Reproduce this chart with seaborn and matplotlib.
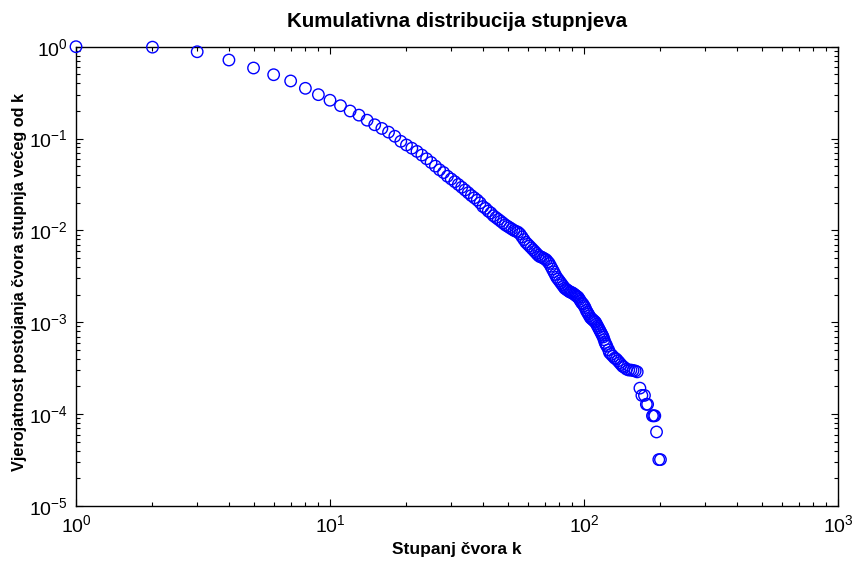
import matplotlib
matplotlib.use("Agg")
import matplotlib.pyplot as plt
import matplotlib.ticker as mticker
import numpy as np
import pandas as pd
import seaborn as sns

# Node degree k and cumulative probability P(K >= k)
degree = [
    1, 2, 3, 4, 5, 6, 7, 8, 9, 10, 11, 12, 13, 14, 15, 16, 17, 18, 19, 20,
    21, 22, 23, 24, 25, 26, 27, 28, 29, 30, 31, 32, 33, 34, 35, 36, 37, 38, 39, 40,
    41, 42, 43, 44, 45, 46, 47, 48, 49, 50, 51, 52, 53, 54, 55, 56, 57, 58, 59, 60,
    61, 62, 63, 64, 65, 66, 67, 68, 69, 70, 71, 72, 73, 74, 75, 76, 77, 78, 79, 80,
    81, 82, 83, 84, 85, 86, 87, 88, 89, 90, 91, 92, 93, 94, 95, 96, 97, 98, 99, 100,
    101, 102, 103, 104, 105, 106, 107, 108, 109, 110, 111, 112, 113, 114, 115, 116,
    117, 118, 119, 120, 121, 122, 123, 125, 126, 128, 130, 132, 134, 136, 138, 140,
    142, 144, 147, 150, 153, 156, 159, 162, 166, 169, 173, 176, 178, 186, 188, 190,
    193, 197, 200,
]
log_prob = [
    0.000, -0.005, -0.055, -0.145, -0.232, -0.305, -0.373, -0.453, -0.522, -0.583,
    -0.642, -0.700, -0.745, -0.800, -0.850, -0.890, -0.930, -0.975, -1.030, -1.070,
    -1.105, -1.140, -1.180, -1.220, -1.260, -1.300, -1.340, -1.370, -1.410, -1.440,
    -1.470, -1.500, -1.530, -1.560, -1.590, -1.620, -1.645, -1.670, -1.700, -1.740,
    -1.760, -1.790, -1.810, -1.840, -1.860, -1.880, -1.900, -1.920, -1.940, -1.955,
    -1.970, -1.985, -2.000, -2.010, -2.020, -2.040, -2.070, -2.100, -2.130, -2.150,
    -2.170, -2.190, -2.210, -2.230, -2.250, -2.270, -2.285, -2.290, -2.300, -2.310,
    -2.320, -2.340, -2.360, -2.390, -2.420, -2.450, -2.480, -2.510, -2.530, -2.550,
    -2.570, -2.590, -2.610, -2.630, -2.640, -2.650, -2.660, -2.670, -2.675, -2.680,
    -2.690, -2.700, -2.710, -2.720, -2.730, -2.750, -2.770, -2.790, -2.800, -2.820,
    -2.840, -2.870, -2.890, -2.910, -2.930, -2.950, -2.960, -2.970, -2.980, -2.990,
    -3.000, -3.020, -3.040, -3.060, -3.080, -3.100, -3.120, -3.140, -3.160, -3.190,
    -3.220, -3.240, -3.260, -3.300, -3.330, -3.350, -3.370, -3.390, -3.400, -3.420,
    -3.440, -3.460, -3.480, -3.490, -3.510, -3.520, -3.520, -3.525, -3.530, -3.540,
    -3.717, -3.796, -3.796, -3.893, -3.893, -4.018, -4.018, -4.018, -4.194, -4.495,
    -4.495,
]
probability = [10.0 ** v for v in log_prob]

x_ticks = [1, 10, 100, 1000]
y_ticks = [1e-5, 1e-4, 1e-3, 1e-2, 1e-1, 1]

df = pd.DataFrame({"k": degree, "P": probability})

sns.set_style("white")
plt.rcParams["font.family"] = ["Liberation Sans", "DejaVu Sans"]
plt.rcParams["mathtext.fontset"] = "custom"
plt.rcParams["mathtext.rm"] = "Liberation Sans"
plt.rcParams["mathtext.it"] = "Liberation Sans:italic"
plt.rcParams["mathtext.bf"] = "Liberation Sans:bold"
plt.rcParams["text.color"] = "black"
plt.rcParams["axes.labelcolor"] = "black"
plt.rcParams["xtick.color"] = "black"
plt.rcParams["ytick.color"] = "black"

fig = plt.figure(figsize=(8.52, 5.61), dpi=100)
ax = fig.add_axes([76 / 852, 55 / 561, 762 / 852, 459.3 / 561])

sns.scatterplot(
    data=df, x="k", y="P", ax=ax, marker="o", s=68,
    facecolor="none", edgecolor="#0000ff", linewidth=1.0,
    clip_on=False, zorder=3, legend=False,
)

ax.set_xscale("log")
ax.set_yscale("log")
ax.set_xlim(1, 1000)
ax.set_ylim(1e-5, 1)

def pow10(v, pos):
    return r"$\mathregular{10^{%d}}$" % int(round(np.log10(v)))

ax.xaxis.set_major_locator(mticker.FixedLocator(x_ticks))
ax.yaxis.set_major_locator(mticker.FixedLocator(y_ticks))
ax.xaxis.set_major_formatter(mticker.FuncFormatter(pow10))
ax.yaxis.set_major_formatter(mticker.FuncFormatter(pow10))
ax.xaxis.set_minor_locator(mticker.LogLocator(base=10, subs=np.arange(2, 10), numticks=20))
ax.yaxis.set_minor_locator(mticker.LogLocator(base=10, subs=np.arange(2, 10), numticks=20))
ax.xaxis.set_minor_formatter(mticker.NullFormatter())
ax.yaxis.set_minor_formatter(mticker.NullFormatter())

ax.tick_params(which="both", direction="in", top=True, right=True,
               bottom=True, left=True, color="black", width=0.8)
ax.tick_params(which="major", length=5, labelsize=14, pad=6)
ax.tick_params(which="minor", length=3)

for sp in ax.spines.values():
    sp.set_visible(True)
    sp.set_color("black")
    sp.set_linewidth(1.0)

ax.set_title("Kumulativna distribucija stupnjeva", fontsize=14.8,
             fontweight="bold", pad=14)
ax.set_xlabel("Stupanj čvora k", fontsize=12.5, fontweight="bold", labelpad=4)
ax.set_ylabel("Vjerojatnost postojanja čvora stupnja većeg od k", fontsize=11.7,
              fontweight="bold")
# axes-fraction coordinates for the vertical label
ax.yaxis.set_label_coords(-0.064, 0.487)

fig.savefig("out.png", dpi=100, facecolor="white")
